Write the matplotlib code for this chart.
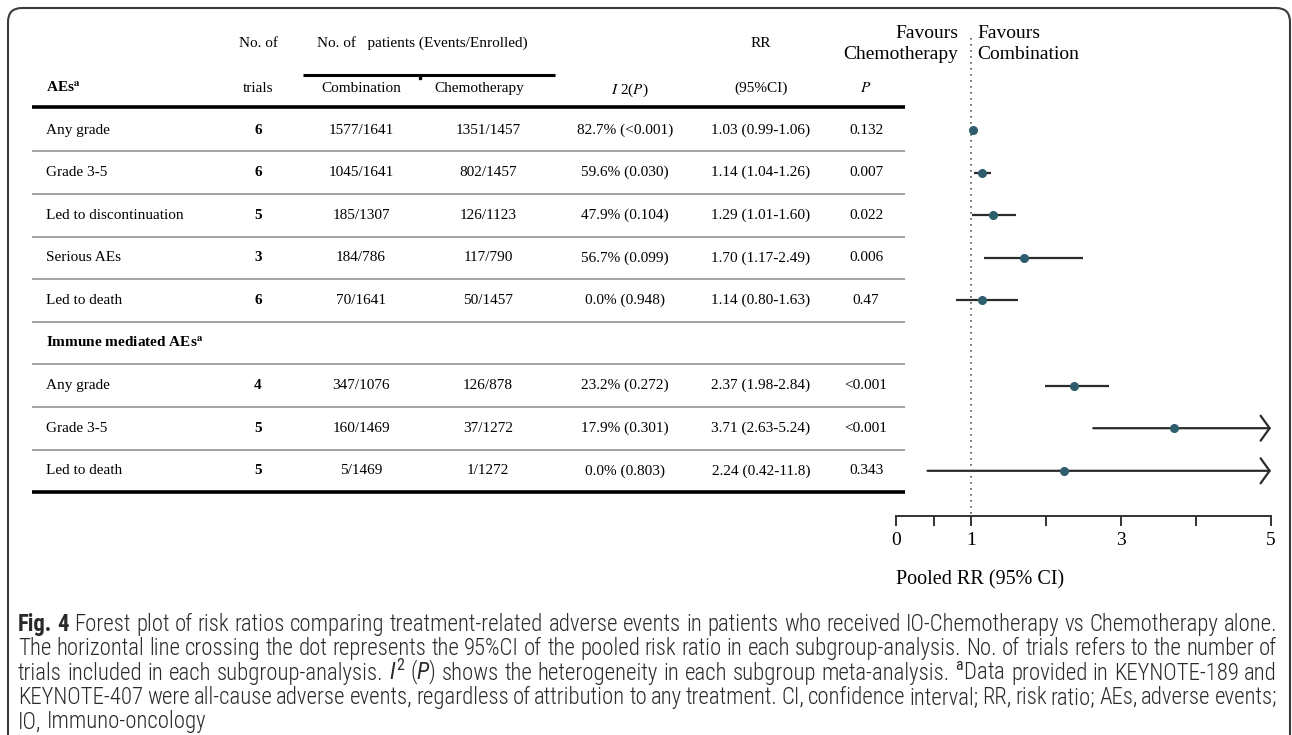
import matplotlib
matplotlib.use("Agg")
import matplotlib.pyplot as plt
from matplotlib import font_manager
from matplotlib.patches import FancyBboxPatch

# ---------------- data ----------------
group_titles = ["", "Immune mediated AEs"]
group_sizes = [5, 3]
outcomes = ["Any grade", "Grade 3-5", "Led to discontinuation", "Serious AEs", "Led to death",
            "Any grade", "Grade 3-5", "Led to death"]
n_trials = [6, 6, 5, 3, 6, 4, 5, 5]
comb_events = [1577, 1045, 185, 184, 70, 347, 160, 5]
comb_total = [1641, 1641, 1307, 786, 1641, 1076, 1469, 1469]
chemo_events = [1351, 802, 126, 117, 50, 126, 37, 1]
chemo_total = [1457, 1457, 1123, 790, 1457, 878, 1272, 1272]
i2_pct = [82.7, 59.6, 47.9, 56.7, 0.0, 23.2, 17.9, 0.0]
i2_p = ["<0.001", "0.030", "0.104", "0.099", "0.948", "0.272", "0.301", "0.803"]
rr = [1.03, 1.14, 1.29, 1.70, 1.14, 2.37, 3.71, 2.24]
rr_lo = [0.99, 1.04, 1.01, 1.17, 0.80, 1.98, 2.63, 0.42]
rr_hi = [1.06, 1.26, 1.60, 2.49, 1.63, 2.84, 5.24, 11.8]
p_values = ["0.132", "0.007", "0.022", "0.006", "0.47", "<0.001", "<0.001", "0.343"]

x_ticks = [0, 0.5, 1, 2, 3, 4, 5]
x_tick_labels = ["0", "", "1", "", "3", "", "5"]

caption_lines = [
    r"Fig. 4 Forest plot of risk ratios comparing treatment-related adverse events in patients who received IO-Chemotherapy vs Chemotherapy alone.",
    r"The horizontal line crossing the dot represents the 95%CI of the pooled risk ratio in each subgroup-analysis. No. of trials refers to the number of",
    r"trials included in each subgroup-analysis. $I^2$ ($P$) shows the heterogeneity in each subgroup meta-analysis. $^{\mathrm{a}}$Data provided in KEYNOTE-189 and",
    r"KEYNOTE-407 were all-cause adverse events, regardless of attribution to any treatment. CI, confidence interval; RR, risk ratio; AEs, adverse events;",
    r"IO, Immuno-oncology",
]

# ---------------- fonts ----------------
W, H, DPI = 1292, 735, 100
SERIF = "Liberation Serif"
available = {f.name for f in font_manager.fontManager.ttflist}
CAP_FONT = next(f for f in ["Liberation Sans Narrow", "Roboto Condensed", "Open Sans", "DejaVu Sans"]
                if f in available)
cap_weights = {f.weight for f in font_manager.fontManager.ttflist if f.name == CAP_FONT}
CAP_WEIGHT = 300 if any(isinstance(w, int) and w <= 300 for w in cap_weights) or "light" in cap_weights else "normal"
plt.rcParams["font.family"] = [SERIF, "DejaVu Serif"]
plt.rcParams["mathtext.rm"] = CAP_FONT
plt.rcParams["mathtext.it"] = CAP_FONT + ":italic"
plt.rcParams["mathtext.bf"] = CAP_FONT + ":bold"

fig = plt.figure(figsize=(W / DPI, H / DPI), dpi=DPI)
bg = fig.add_axes([0, 0, 1, 1])
bg.set_xlim(0, W)
bg.set_ylim(H, 0)
bg.axis("off")

# rounded frame
bg.add_patch(FancyBboxPatch((8, 8), 1282, 760, boxstyle="round,pad=0,rounding_size=14",
                            fill=False, lw=1.5, ec="#3a3a3a"))

# ---------------- table layout ----------------
ROW0, ROW_H = 130, 42.6
TABLE_L, TABLE_R = 32, 905
COL_LABEL, COL_TRIALS, COL_COMB, COL_CHEMO = 46, 258, 361, 488
COL_I2, COL_RR, COL_P = 625, 761, 866
FS = 11

row_y, title_rows = [], []
slot = 0
for title, n in zip(group_titles, group_sizes):
    if title:
        title_rows.append((title, ROW0 + slot * ROW_H))
        slot += 1
    for _ in range(n):
        row_y.append(ROW0 + slot * ROW_H)
        slot += 1
n_slots = slot

# header
HY1, HY2 = 43, 88
bg.text(COL_TRIALS, HY1, "No. of", ha="center", va="center", fontsize=FS)
bg.text(COL_TRIALS, HY2, "trials", ha="center", va="center", fontsize=FS)
bg.text(422, HY1, "No. of   patients (Events/Enrolled)", ha="center", va="center", fontsize=FS)
bg.plot([303, 555], [75, 75], color="black", lw=2.2, solid_capstyle="butt")
bg.plot([420], [78], marker="s", ms=1.6, color="black")
bg.text(COL_COMB, HY2, "Combination", ha="center", va="center", fontsize=FS)
bg.text(479, HY2, "Chemotherapy", ha="center", va="center", fontsize=FS)
bg.text(COL_LABEL, HY2, r"AEs$^{\mathbf{a}}$", ha="left", va="center", fontsize=FS,
        fontweight="bold", math_fontfamily="stix")
bg.text(630, HY2 + 2, r"$\mathit{I}$ 2($\mathit{P}$)", ha="center", va="center", fontsize=FS,
        math_fontfamily="stix")
bg.text(COL_RR, HY1, "RR", ha="center", va="center", fontsize=FS)
bg.text(COL_RR, HY2, "(95%CI)", ha="center", va="center", fontsize=FS)
bg.text(COL_P, HY2, r"$\mathit{P}$", ha="center", va="center", fontsize=FS, math_fontfamily="stix")

# rules
top_rule = ROW0 - 0.55 * ROW_H
bottom_rule = ROW0 + (n_slots - 0.5) * ROW_H
bg.plot([TABLE_L, TABLE_R], [top_rule, top_rule], color="black", lw=2.6, solid_capstyle="butt")
bg.plot([TABLE_L, TABLE_R], [bottom_rule, bottom_rule], color="black", lw=2.6, solid_capstyle="butt")
for k in range(1, n_slots):
    yk = ROW0 + (k - 0.5) * ROW_H
    bg.plot([TABLE_L, TABLE_R], [yk, yk], color="#8a8a8a", lw=1.1, solid_capstyle="butt")


def fmt_ci(v):
    return f"{v:.1f}" if v >= 10 else f"{v:.2f}"


for title, ty in title_rows:
    bg.text(COL_LABEL, ty, title + r"$^{\mathbf{a}}$", ha="left", va="center", fontsize=FS,
            fontweight="bold", math_fontfamily="stix")

for i, y in enumerate(row_y):
    bg.text(COL_LABEL, y, outcomes[i], ha="left", va="center", fontsize=FS)
    bg.text(COL_TRIALS, y, str(n_trials[i]), ha="center", va="center", fontsize=FS, fontweight="bold")
    bg.text(COL_COMB, y, f"{comb_events[i]}/{comb_total[i]}", ha="center", va="center", fontsize=FS)
    bg.text(COL_CHEMO, y, f"{chemo_events[i]}/{chemo_total[i]}", ha="center", va="center", fontsize=FS)
    bg.text(COL_I2, y, f"{i2_pct[i]:.1f}% ({i2_p[i]})", ha="center", va="center", fontsize=FS)
    bg.text(COL_RR, y, f"{rr[i]:.2f} ({fmt_ci(rr_lo[i])}-{fmt_ci(rr_hi[i])})", ha="center",
            va="center", fontsize=FS)
    bg.text(COL_P, y, p_values[i], ha="center", va="center", fontsize=FS)

# ---------------- forest plot ----------------
FX0, FX1 = 896, 1271
AX_TOP, AX_BOT = 20, 516
fx = fig.add_axes([FX0 / W, 1 - AX_BOT / H, (FX1 - FX0) / W, (AX_BOT - AX_TOP) / H])
fx.set_xlim(x_ticks[0], x_ticks[-1])
fx.set_ylim(AX_BOT, AX_TOP)
fx.patch.set_alpha(0)
for s in ["top", "right", "left"]:
    fx.spines[s].set_visible(False)
fx.spines["bottom"].set_linewidth(1.4)
fx.spines["bottom"].set_color("#333333")
fx.set_yticks([])
fx.set_xticks(x_ticks)
fx.set_xticklabels(x_tick_labels)
fx.tick_params(axis="x", direction="out", length=7.5, width=1.4, colors="#333333",
               labelcolor="black", labelsize=14, pad=4)
fx.set_xlabel("Pooled RR (95% CI)", loc="left", fontsize=14.5, labelpad=15)

fx.vlines(1, 38, AX_BOT, linestyles=(0, (1, 2.6)), colors="#555555", lw=1.2)

xmax = x_ticks[-1]
LINE_C, DOT_C = "#2b2b2b", "#2e5e6e"
for i, y in enumerate(row_y):
    if rr_hi[i] > xmax:
        fx.annotate("", xy=(xmax, y), xytext=(rr_lo[i], y), annotation_clip=False,
                    arrowprops=dict(arrowstyle="->,head_length=0.65,head_width=0.9", lw=1.6,
                                    color=LINE_C, shrinkA=0, shrinkB=0))
    else:
        fx.hlines(y, rr_lo[i], rr_hi[i], colors=LINE_C, lw=1.6, clip_on=False)
    fx.plot(rr[i], y, "o", ms=5.5, color=DOT_C, zorder=3, clip_on=False)

bg.text(958, 44, "Favours\nChemotherapy", ha="right", va="center", fontsize=14, linespacing=1.25)
bg.text(977, 44, "Favours\nCombination", ha="left", va="center", fontsize=14, linespacing=1.25)

# ---------------- caption ----------------
CAP_X0, CAP_X1 = 18, 1277
CAP_BASE0, CAP_DY = 631, 24.3
CAP_COLOR = "#2a2a2a"
renderer = fig.canvas.get_renderer()


def word_widths(words, fs):
    arts = []
    for j, w in enumerate(words):
        bold = w in ("Fig.", "4") and j < 2
        arts.append(bg.text(0, 0, w, fontsize=fs, family=CAP_FONT, color=CAP_COLOR,
                            fontweight="bold" if bold else CAP_WEIGHT, ha="left", va="baseline",
                            math_fontfamily="custom"))
    widths = [a.get_window_extent(renderer).width for a in arts]
    return arts, widths


def space_width(fs):
    a = bg.text(0, 0, "n n", fontsize=fs, family=CAP_FONT, fontweight=CAP_WEIGHT)
    b = bg.text(0, 0, "nn", fontsize=fs, family=CAP_FONT, fontweight=CAP_WEIGHT)
    d = a.get_window_extent(renderer).width - b.get_window_extent(renderer).width
    a.remove()
    b.remove()
    return d


# choose the size that makes the first line fill the text block
probe = 12.0
first = caption_lines[0].split()
arts, ws = word_widths(first, probe)
natural = sum(ws) + (len(first) - 1) * space_width(probe)
for a in arts:
    a.remove()
cap_fs = probe * (CAP_X1 - CAP_X0) / natural

sp = space_width(cap_fs)
for k, line in enumerate(caption_lines):
    words = line.split()
    arts, ws = word_widths(words, cap_fs)
    last = k == len(caption_lines) - 1
    gap = sp if last else (CAP_X1 - CAP_X0 - sum(ws)) / (len(words) - 1)
    x = CAP_X0
    yb = CAP_BASE0 + k * CAP_DY
    for a, w in zip(arts, ws):
        a.set_position((x, yb))
        x += w + gap

fig.savefig("out.png", dpi=DPI)
